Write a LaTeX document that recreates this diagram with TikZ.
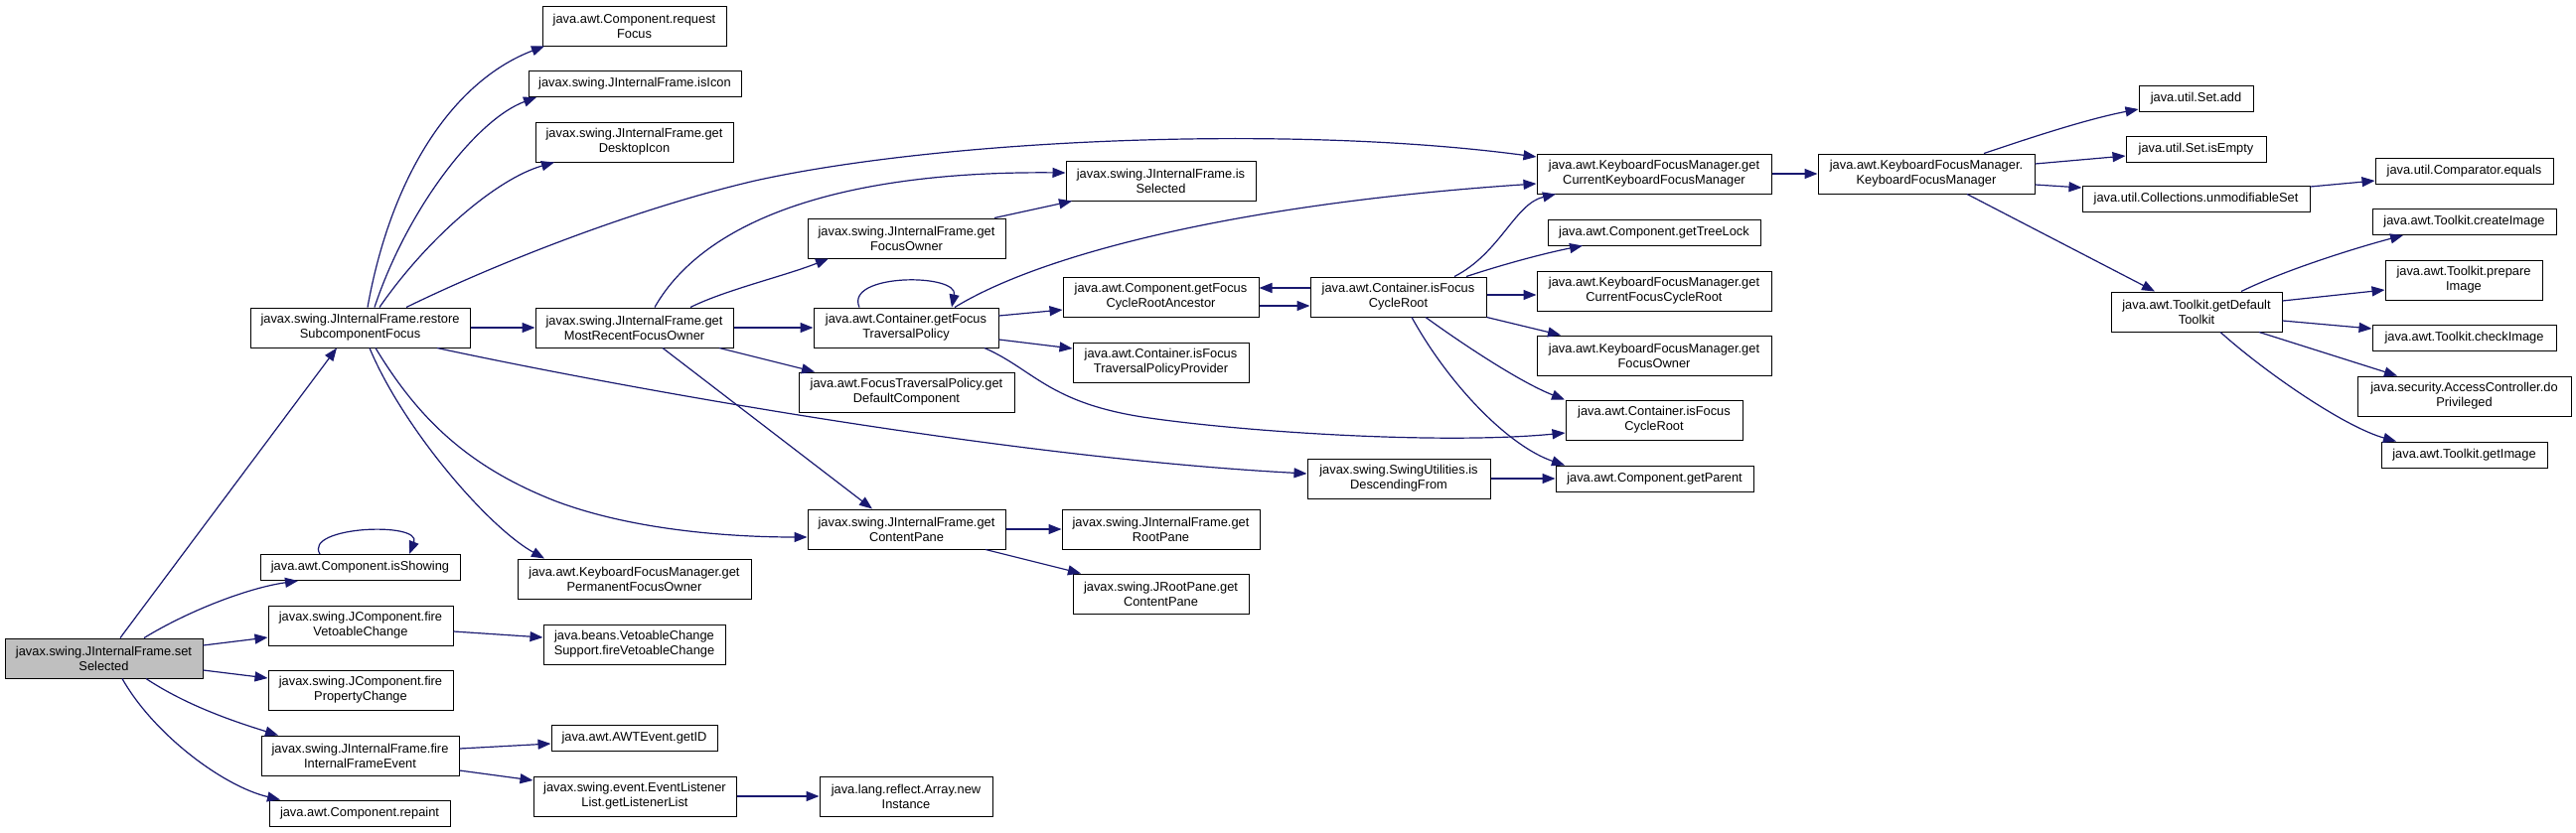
\documentclass[tikz,border=0pt]{standalone}
\usepackage{fontspec}
\setmainfont{Liberation Sans}
\usetikzlibrary{arrows.meta}
\definecolor{edgecol}{RGB}{25,25,112}
\definecolor{selgray}{RGB}{191,191,191}
\newcommand{\boxfont}{\fontsize{12.85}{15}\selectfont}
\begin{document}
\begin{tikzpicture}[x=1pt,y=-1pt,
  box/.style={draw=black, line width=1pt, fill=white, inner sep=0pt, align=center, font=\boxfont},
  two/.style={minimum height=40pt},
  one/.style={minimum height=26pt},
  calls/.style={draw=edgecol, line width=1.2pt, -{Triangle[length=13pt,width=10pt]}}]
\useasboundingbox[fill=white] (0,0) rectangle (2593,838);
% column 0
\node[box,two,fill=selgray,minimum width=199pt] (setSel) at (104.5,663) {javax.swing.JInternalFrame.set\\Selected};
% column 1
\node[box,two,minimum width=221pt] (restore) at (362.5,330) {javax.swing.JInternalFrame.restore\\SubcomponentFocus};
\node[box,one,minimum width=201pt] (isShowing) at (362.5,571.5) {java.awt.Component.isShowing};
\node[box,two,minimum width=186pt] (fireVeto) at (363,630) {javax.swing.JComponent.fire\\VetoableChange};
\node[box,two,minimum width=186pt] (fireProp) at (363,695) {javax.swing.JComponent.fire\\PropertyChange};
\node[box,two,minimum width=199pt] (fireIFE) at (362.5,761) {javax.swing.JInternalFrame.fire\\InternalFrameEvent};
\node[box,one,minimum width=182pt] (repaint) at (362,819) {java.awt.Component.repaint};
% column 2
\node[box,two,minimum width=185pt] (reqFocus) at (638.5,26) {java.awt.Component.request\\Focus};
\node[box,one,minimum width=214pt] (isIcon) at (639,84.5) {javax.swing.JInternalFrame.isIcon};
\node[box,two,minimum width=199pt] (deskIcon) at (638.5,143) {javax.swing.JInternalFrame.get\\DesktopIcon};
\node[box,two,minimum width=199pt] (mrfo) at (638.5,330) {javax.swing.JInternalFrame.get\\MostRecentFocusOwner};
\node[box,two,minimum width=235pt] (permFO) at (638.5,583) {java.awt.KeyboardFocusManager.get\\PermanentFocusOwner};
\node[box,two,minimum width=183pt] (vcs) at (638.5,649) {java.beans.VetoableChange\\Support.fireVetoableChange};
\node[box,one,minimum width=167pt] (getID) at (638.5,743) {java.awt.AWTEvent.getID};
\node[box,two,minimum width=204pt] (ell) at (639,802) {javax.swing.event.EventListener\\List.getListenerList};
% column 3
\node[box,two,minimum width=199pt] (jifFO) at (912.5,240) {javax.swing.JInternalFrame.get\\FocusOwner};
\node[box,two,minimum width=186pt] (gftp) at (912,330) {java.awt.Container.getFocus\\TraversalPolicy};
\node[box,two,minimum width=217pt] (defComp) at (912.5,395) {java.awt.FocusTraversalPolicy.get\\DefaultComponent};
\node[box,two,minimum width=199pt] (jifCP) at (912.5,533) {javax.swing.JInternalFrame.get\\ContentPane};
\node[box,two,minimum width=174pt] (newInst) at (912,802) {java.lang.reflect.Array.new\\Instance};
% column 4
\node[box,two,minimum width=191pt] (isSel) at (1168.5,182) {javax.swing.JInternalFrame.is\\Selected};
\node[box,two,minimum width=197pt] (gfcra) at (1168.5,299) {java.awt.Component.getFocus\\CycleRootAncestor};
\node[box,two,minimum width=177pt] (iftpp) at (1168.5,365) {java.awt.Container.isFocus\\TraversalPolicyProvider};
\node[box,two,minimum width=199pt] (rootPane) at (1168.5,533) {javax.swing.JInternalFrame.get\\RootPane};
\node[box,two,minimum width=177pt] (jrpCP) at (1168.5,598) {javax.swing.JRootPane.get\\ContentPane};
% column 5
\node[box,two,minimum width=177pt] (ifcr) at (1407.5,299) {java.awt.Container.isFocus\\CycleRoot};
\node[box,two,minimum width=184pt] (sudf) at (1408,482) {javax.swing.SwingUtilities.is\\DescendingFrom};
% column 6
\node[box,two,minimum width=236pt] (gckfm) at (1665,175) {java.awt.KeyboardFocusManager.get\\CurrentKeyboardFocusManager};
\node[box,one,minimum width=214pt] (treeLock) at (1665,234) {java.awt.Component.getTreeLock};
\node[box,two,minimum width=236pt] (gcfcr) at (1665,293) {java.awt.KeyboardFocusManager.get\\CurrentFocusCycleRoot};
\node[box,two,minimum width=236pt] (kfmFO) at (1665,358) {java.awt.KeyboardFocusManager.get\\FocusOwner};
\node[box,two,minimum width=178pt] (ifcr2) at (1665,423) {java.awt.Container.isFocus\\CycleRoot};
\node[box,one,minimum width=199pt] (getParent) at (1665.5,482) {java.awt.Component.getParent};
% column 7
\node[box,two,minimum width=218pt] (kfmk) at (1939,175) {java.awt.KeyboardFocusManager.\\KeyboardFocusManager};
% column 8
\node[box,one,minimum width=115pt] (setAdd) at (2210.5,99) {java.util.Set.add};
\node[box,one,minimum width=141pt] (setEmpty) at (2210.5,150) {java.util.Set.isEmpty};
\node[box,one,minimum width=229pt] (unmod) at (2210.5,200) {java.util.Collections.unmodifiableSet};
\node[box,two,minimum width=172pt] (gdt) at (2211,314) {java.awt.Toolkit.getDefault\\Toolkit};
% column 9
\node[box,one,minimum width=179pt] (compEq) at (2480.5,172.5) {java.util.Comparator.equals};
\node[box,one,minimum width=185pt] (createImg) at (2480.5,223.5) {java.awt.Toolkit.createImage};
\node[box,two,minimum width=158pt] (prepImg) at (2480,282) {java.awt.Toolkit.prepare\\Image};
\node[box,one,minimum width=185pt] (checkImg) at (2480.5,340.5) {java.awt.Toolkit.checkImage};
\node[box,two,minimum width=215pt] (doPriv) at (2480.5,399) {java.security.AccessController.do\\Privileged};
\node[box,one,minimum width=167pt] (getImg) at (2480.5,458) {java.awt.Toolkit.getImage};
% edges from setSelected
\draw[calls] ([xshift=16.5pt]setSel.north) -- ([xshift=-23.5pt]restore.south);
\draw[calls] ([xshift=40.5pt]setSel.north) .. controls (190,615) and (250,592) .. ([xshift=-62.5pt]isShowing.south);
\draw[calls] ([yshift=13pt]setSel.east) -- ([yshift=-12pt]fireVeto.west);
\draw[calls] ([yshift=-12pt]setSel.east) -- ([yshift=12pt]fireProp.west);
\draw[calls] ([xshift=42.5pt]setSel.south) .. controls (190,712) and (240,728) .. ([xshift=-82.5pt]fireIFE.north);
\draw[calls] ([xshift=18.5pt]setSel.south) .. controls (155,740) and (225,792) .. ([xshift=-80pt]repaint.north);
% restore
\draw[calls] ([xshift=7.5pt]restore.north) .. controls (395,170) and (460,80) .. ([xshift=-90.5pt]reqFocus.south);
\draw[calls] ([xshift=14.5pt]restore.north) .. controls (410,210) and (480,120) .. ([xshift=-99pt]isIcon.south);
\draw[calls] ([xshift=19.5pt]restore.north) .. controls (430,240) and (500,180) .. ([xshift=-80.5pt]deskIcon.south);
\draw[calls] ([xshift=46.5pt]restore.north) .. controls (500,265) and (640,210) .. (760,182) .. controls (950,140) and (1300,125) .. ([yshift=17pt]gckfm.west);
\draw[calls] (restore.east) -- (mrfo.west);
\draw[calls] ([xshift=77.5pt]restore.south) .. controls (600,385) and (1000,460) .. ([yshift=5pt]sudf.west);
\draw[calls] ([xshift=15.5pt]restore.south) .. controls (420,420) and (470,470) .. (560,505) .. controls (640,535) and (740,541) .. ([yshift=-8pt]jifCP.west);
\draw[calls] ([xshift=9.5pt]restore.south) .. controls (405,430) and (490,530) .. ([xshift=-90.5pt]permFO.north);
% isShowing loop
\draw[calls] ([xshift=-40.5pt]isShowing.north) .. controls (305,530) and (425,525) .. ([xshift=49.5pt]isShowing.north);
% mrfo
\draw[calls] ([xshift=20.5pt]mrfo.north) .. controls (710,220) and (850,172) .. ([yshift=8pt]isSel.west);
\draw[calls] ([xshift=56.5pt]mrfo.north) .. controls (730,292) and (790,278) .. ([xshift=-78.5pt]jifFO.south);
\draw[calls] (mrfo.east) -- (gftp.west);
\draw[calls] ([xshift=85.5pt]mrfo.south) -- ([xshift=-92.5pt]defComp.north);
\draw[calls] ([xshift=28.5pt]mrfo.south) -- ([xshift=-34.5pt]jifCP.north);
% jifFO
\draw[calls] ([xshift=88.5pt]jifFO.north) -- ([xshift=-89.5pt]isSel.south);
% gftp
\draw[calls] ([xshift=-47pt]gftp.north) .. controls (850,275) and (965,275) .. ([xshift=46pt]gftp.north);
\draw[calls] ([yshift=12pt]gftp.east) -- ([yshift=-13pt]gfcra.west);
\draw[calls] ([yshift=-12pt]gftp.east) -- ([yshift=14pt]iftpp.west);
\draw[calls] ([xshift=49pt]gftp.north) .. controls (1050,255) and (1250,205) .. ([yshift=-10pt]gckfm.west);
\draw[calls] ([xshift=79pt]gftp.south) .. controls (1040,372) and (1055,405) .. (1150,420) .. controls (1250,435) and (1450,448) .. ([yshift=-13pt]ifcr2.west);
% gfcra <-> ifcr
\draw[calls] ([yshift=-9pt]gfcra.east) -- ([yshift=-9pt]ifcr.west);
\draw[calls] ([yshift=9pt]ifcr.west) -- ([yshift=9pt]gfcra.east);
% ifcr
\draw[calls] ([xshift=56.5pt]ifcr.north) .. controls (1510,255) and (1525,205) .. ([xshift=-99pt]gckfm.south);
\draw[calls] ([xshift=68.5pt]ifcr.north) .. controls (1520,264) and (1560,254) .. ([xshift=-72pt]treeLock.south);
\draw[calls] ([yshift=2pt]ifcr.east) -- ([yshift=-4pt]gcfcr.west);
\draw[calls] (ifcr.south east) -- ([xshift=-94pt]kfmFO.north);
\draw[calls] ([xshift=27.5pt]ifcr.south) .. controls (1470,345) and (1530,385) .. ([xshift=-90pt]ifcr2.north);
\draw[calls] ([xshift=13.5pt]ifcr.south) .. controls (1460,390) and (1520,450) .. ([xshift=-90.5pt]getParent.north);
% sudf
\draw[calls] (sudf.east) -- (getParent.west);
% gckfm
\draw[calls] (gckfm.east) -- (kfmk.west);
% kfmk
\draw[calls] ([xshift=58pt]kfmk.north) .. controls (2040,140) and (2100,120) .. ([yshift=-11pt]setAdd.west);
\draw[calls] ([yshift=10pt]kfmk.east) -- ([yshift=-7pt]setEmpty.west);
\draw[calls] ([yshift=-11pt]kfmk.east) -- ([yshift=11pt]unmod.west);
\draw[calls] ([xshift=41pt]kfmk.south) -- ([xshift=-42pt]gdt.north);
\draw[calls] ([yshift=12pt]unmod.east) -- ([yshift=-9.5pt]compEq.west);
% gdt
\draw[calls] ([xshift=45pt]gdt.north) .. controls (2300,272) and (2370,250) .. ([xshift=-61.5pt]createImg.south);
\draw[calls] ([yshift=11pt]gdt.east) -- ([yshift=-10pt]prepImg.west);
\draw[calls] ([yshift=-9pt]gdt.east) -- ([yshift=9.5pt]checkImg.west);
\draw[calls] ([xshift=63pt]gdt.south) -- ([xshift=-67.5pt]doPriv.north);
\draw[calls] ([xshift=24pt]gdt.south) .. controls (2280,375) and (2360,430) .. ([xshift=-68.5pt]getImg.north);
% lower part
\draw[calls] ([yshift=-6pt]fireVeto.east) -- ([yshift=7pt]vcs.west);
\draw[calls] ([yshift=7pt]fireIFE.east) -- ([yshift=-6pt]getID.west);
\draw[calls] ([yshift=-15pt]fireIFE.east) -- ([yshift=16pt]ell.west);
\draw[calls] (ell.east) -- (newInst.west);
\draw[calls] (jifCP.east) -- (rootPane.west);
\draw[calls] ([xshift=79.5pt]jifCP.south) -- ([xshift=-80.5pt]jrpCP.north);
\end{tikzpicture}
\end{document}
